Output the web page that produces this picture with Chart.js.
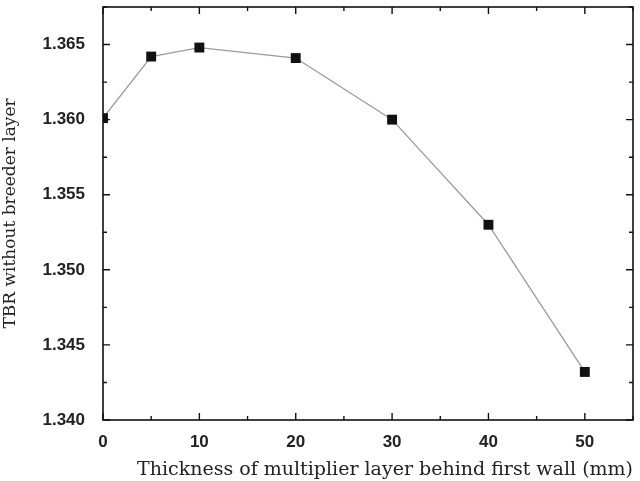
<!DOCTYPE html>
<html>
<head>
<meta charset="utf-8">
<script src="https://cdn.jsdelivr.net/npm/chart.js@4"></script>
<style>
  html, body { margin: 0; padding: 0; background: #fff; }
  #wrap { width: 640px; height: 481px; }
</style>
</head>
<body>
<div id="wrap"><canvas id="chart" width="640" height="481"></canvas></div>
<script>
// thickness of multiplier layer (mm) and TBR
const thickness = [0, 5, 10, 20, 30, 40, 50];
const tbr = [1.3601, 1.3642, 1.3648, 1.3641, 1.3600, 1.3530, 1.3432];

const xMin = 0, xMax = 55;
const yMin = 1.340, yMax = 1.3675;

// frame + inward ticks on all four sides
const frameTicks = {
    id: 'frameTicks',
    afterDatasetsDraw(chart) {
        const { ctx, chartArea: a, scales: { x, y } } = chart;
        ctx.save();
        ctx.strokeStyle = '#111';
        ctx.lineWidth = 1.6;
        ctx.strokeRect(a.left, a.top, a.right - a.left, a.bottom - a.top);
        ctx.lineWidth = 1.4;
        ctx.beginPath();
        for (let v = xMin; v <= xMax; v += 5) {
            const px = x.getPixelForValue(v);
            const len = v % 10 === 0 ? 7 : 4;
            ctx.moveTo(px, a.bottom); ctx.lineTo(px, a.bottom - len);
            ctx.moveTo(px, a.top); ctx.lineTo(px, a.top + len);
        }
        for (let i = 0; i * 0.0025 + yMin <= yMax + 1e-9; i++) {
            const py = y.getPixelForValue(yMin + i * 0.0025);
            const len = i % 2 === 0 ? 7 : 4;
            ctx.moveTo(a.left, py); ctx.lineTo(a.left + len, py);
            ctx.moveTo(a.right, py); ctx.lineTo(a.right - len, py);
        }
        ctx.stroke();
        ctx.restore();
    }
};

const tickFont = { family: 'Liberation Sans', size: 17, weight: 'bold' };

new Chart(document.getElementById('chart').getContext('2d'), {
    type: 'line',
    data: {
        datasets: [{
            data: thickness.map((t, i) => ({ x: t, y: tbr[i] })),
            borderColor: '#9a9a9a',
            borderWidth: 1.3,
            pointStyle: 'rect',
            pointRadius: 7,
            pointBackgroundColor: '#111',
            pointBorderColor: '#111',
            pointBorderWidth: 0,
            tension: 0,
            clip: { left: 0, top: 0, right: 0, bottom: 0 }
        }]
    },
    options: {
        responsive: false,
        animation: false,
        layout: { padding: { top: 6, right: 0, left: 0, bottom: 0 } },
        plugins: { legend: { display: false }, tooltip: { enabled: false } },
        scales: {
            x: {
                type: 'linear',
                min: xMin, max: xMax,
                grid: { display: false },
                border: { display: false },
                ticks: {
                    stepSize: 10, includeBounds: false,
                    color: '#222', font: tickFont, padding: 4,
                    maxRotation: 0
                },
                title: {
                    display: true,
                    text: 'Thickness of multiplier layer behind first wall (mm)',
                    color: '#222', font: { family: 'DejaVu Serif', size: 19 },
                    align: 'end', padding: { top: 4, bottom: 0 }
                },
                afterFit(s) {
                    s.height = 61;
                    s.paddingLeft = 0; s.paddingRight = 0;
                }
            },
            y: {
                type: 'linear',
                min: yMin, max: yMax,
                grid: { display: false },
                border: { display: false },
                ticks: {
                    stepSize: 0.005, includeBounds: false,
                    color: '#222', font: tickFont, padding: 10,
                    callback: v => v.toFixed(3)
                },
                title: {
                    display: true,
                    text: 'TBR without breeder layer',
                    color: '#222', font: { family: 'DejaVu Serif', size: 17 },
                    padding: { top: 0, bottom: 4 }
                },
                afterFit(s) {
                    s.width = 103;
                    s.paddingTop = 0; s.paddingBottom = 0;
                }
            }
        }
    },
    plugins: [frameTicks]
});
</script>
</body>
</html>
